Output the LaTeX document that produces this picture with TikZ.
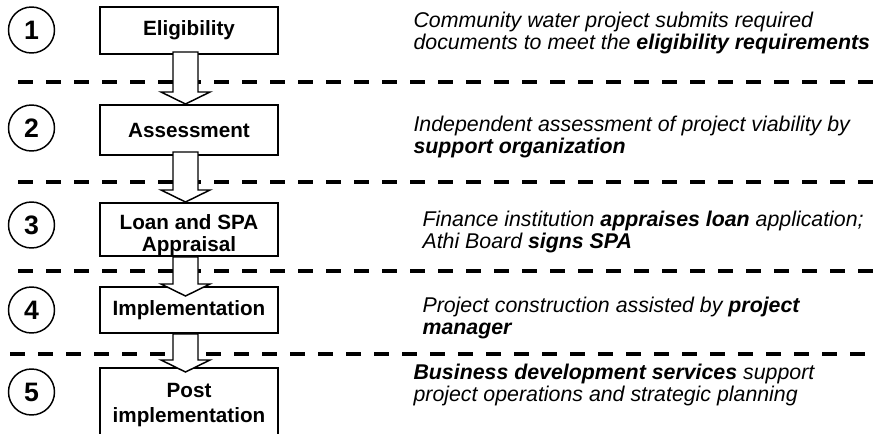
\documentclass[tikz,border=0pt]{standalone}
\usepackage{fontspec}
\setmainfont{Liberation Sans}
\usetikzlibrary{calc}

\newcommand{\blockarrow}[2]{%
  \draw[flow arrow] ($(#1)+(-12.5,0)$) -- ($(#2)+(-12.5,-12)$) -- ($(#2)+(-24.5,-12)$) -- (#2)
    -- ($(#2)+(24.5,-12)$) -- ($(#2)+(12.5,-12)$) -- ($(#1)+(12.5,0)$) -- cycle;}

\begin{document}
\begin{tikzpicture}[x=0.75pt,y=-0.75pt,
  thick,num node/.style={circle,draw,line width=1.1pt,inner sep=0pt,minimum size=34.5pt,font=\fontsize{20}{24}\selectfont\bfseries},
  stage box/.style={rectangle,draw,line width=1.5pt,fill=white,minimum width=133.5pt,inner sep=0pt,font=\fontsize{15.5}{15}\selectfont\bfseries},
  box text/.style={align=center,inner sep=0pt,font=\fontsize{15.5}{15}\selectfont\bfseries},
  note/.style={anchor=west,align=left,inner sep=0pt,font=\fontsize{16}{17}\selectfont\itshape},
  sep line/.style={line width=2.6pt,dash pattern=on 11.25pt off 9.75pt},
  flow arrow/.style={fill=white,line width=1.1pt,line join=miter}]

  \useasboundingbox (0,0) rectangle (876,433);
  \clip (0,0) rectangle (876,433);

  \draw[sep line] (18,82) -- (876,82);
  \draw[sep line] (18,182) -- (876,182);
  \draw[sep line] (18,271) -- (876,271);
  \draw[sep line] (10,354) -- (867,354);

  \node[num node] (1) at (31.5,30){1};
  \node[num node] (2) at (31.5,128){2};
  \node[num node] (3) at (31.5,225){3};
  \node[num node] (4) at (31.5,310){4};
  \node[num node] (5) at (31.5,392){5};

  \node[stage box,minimum height=35.25pt] (b1) at (189,30.5){Eligibility};
  \node[stage box,minimum height=37.5pt] (b2) at (189,130){Assessment};
  \node[stage box,minimum height=39.75pt] (b3) at (189,229.5){};
  \node[stage box,minimum height=34.5pt] (b4) at (189,310){Implementation};
  \node[stage box,minimum height=57pt] (b5) at (189,406){};

  \coordinate (s1) at ($(b1.south)+(-3.5,-3)$);
  \coordinate (e1) at ($(b2.north)+(-3.5,0)$);
  \coordinate (s2) at ($(b2.south)+(-3.5,-4)$);
  \coordinate (e2) at ($(b3.north)+(-3.5,0)$);
  \coordinate (s3) at ($(b3.south)+(-3.5,0)$);
  \coordinate (e3) at ($(b4.north)+(-3.5,10)$);
  \coordinate (s4) at ($(b4.south)+(-3.5,0)$);
  \coordinate (e4) at ($(b5.north)+(-3.5,5)$);
  \blockarrow{s1}{e1}
  \blockarrow{s2}{e2}
  \blockarrow{s3}{e3}
  \blockarrow{s4}{e4}

  \node[box text,font=\fontsize{15.5}{17}\selectfont\bfseries] (l3) at (189,235){Loan and SPA\\Appraisal};
  \node[box text,font=\fontsize{15.5}{18.75}\selectfont\bfseries] (l5) at (189,405){Post\\implementation};

  \node[note] (t1) at (413,33){Community water project submits required\\documents to meet the \textbf{eligibility requirements}};
  \node[note] (t2) at (413,137){Independent assessment of project viability by\\\textbf{support organization}};
  \node[note] (t3) at (422,232){Finance institution \textbf{appraises loan} application;\\Athi Board \textbf{signs SPA}};
  \node[note] (t4) at (422,318){Project construction assisted by \textbf{project}\\\textbf{manager}};
  \node[note] (t5) at (413,385){\textbf{Business development services} support\\project operations and strategic planning};
\end{tikzpicture}
\end{document}
